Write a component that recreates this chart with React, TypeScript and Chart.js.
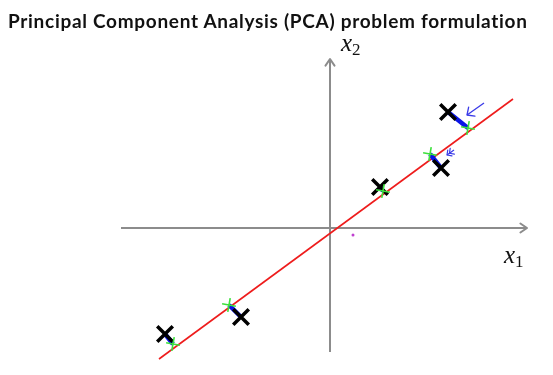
import React, { useEffect, useRef } from "react";
import { Chart, registerables } from "chart.js";

Chart.register(...registerables);

// Data coordinates (origin at the axes crossing)
const axisX = [{ x: -5.225, y: 0 }, { x: 4.925, y: 0 }];
const axisY = [{ x: 0, y: -3.1 }, { x: 0, y: 4.225 }];
const pcaLine = [{ x: -4.275, y: -3.275 }, { x: 4.575, y: 3.225 }];

const pointsX = [2.95, 2.775, 1.25, -4.125, -2.225];
const pointsY = [2.9, 1.5, 1.025, -2.65, -2.225];

const projX = [3.45, 2.5, 1.325, -3.925, -2.525];
const projY = [2.5, 1.85, 0.925, -2.9, -1.925];

const arrow1 = [{ x: 3.85, y: 3.125 }, { x: 3.425, y: 2.825 }];
const arrow2 = [{ x: 3.1, y: 1.95 }, { x: 2.925, y: 1.825 }];
const stray = [{ x: 0.575, y: -0.175 }];

const titleText = "Principal Component Analysis (PCA) problem formulation";

const arrowPlugin = {
  id: "arrowHeads",
  afterDatasetsDraw(chart: any) {
    const ctx = chart.ctx;
    chart.data.datasets.forEach((ds: any, i: number) => {
      if (!ds.arrowHead) return;
      const meta = chart.getDatasetMeta(i);
      const pts = meta.data;
      if (pts.length < 2) return;
      const a = pts[pts.length - 2];
      const b = pts[pts.length - 1];
      const ang = Math.atan2(b.y - a.y, b.x - a.x);
      const size = ds.arrowHead.size;
      const spread = ds.arrowHead.spread;
      const count = ds.arrowHead.count || 1;
      ctx.save();
      ctx.strokeStyle = ds.borderColor;
      ctx.lineWidth = ds.borderWidth;
      ctx.lineCap = "round";
      ctx.lineJoin = "round";
      for (let k = 0; k < count; k++) {
        const ox = b.x - Math.cos(ang) * k * size * 0.6;
        const oy = b.y - Math.sin(ang) * k * size * 0.6;
        ctx.beginPath();
        ctx.moveTo(ox - size * Math.cos(ang - spread), oy - size * Math.sin(ang - spread));
        ctx.lineTo(ox, oy);
        ctx.lineTo(ox - size * Math.cos(ang + spread), oy - size * Math.sin(ang + spread));
        ctx.stroke();
      }
      ctx.restore();
    });
  },
};

export default function App() {
  const ref = useRef<HTMLCanvasElement | null>(null);

  useEffect(() => {
    document.body.style.margin = "0";
    const canvas = ref.current;
    if (!canvas) return;

    const xMarks = pointsX.map((x, i) => ({ x, y: pointsY[i] }));
    const projMarks = projX.map((x, i) => ({ x, y: projY[i] }));
    const segments = pointsX.map((x, i) => ({
      type: "line",
      data: [{ x, y: pointsY[i] }, { x: projX[i], y: projY[i] }],
      borderColor: "#0a14e6",
      borderWidth: 4.5,
      pointRadius: 0,
      showLine: true,
      order: 2,
    }));

    const chart = new Chart(canvas, {
      type: "scatter",
      data: {
        datasets: [
          {
            data: projMarks,
            pointStyle: "cross",
            rotation: 10,
            pointRadius: 7,
            borderColor: "#3ce03c",
            backgroundColor: "#3ce03c",
            pointBorderWidth: 1.6,
            order: 0,
          } as any,
          {
            data: xMarks,
            pointStyle: "crossRot",
            pointRadius: 11,
            borderColor: "#000000",
            backgroundColor: "#000000",
            pointBorderWidth: 3.5,
            order: 1,
          },
          ...segments,
          {
            type: "line",
            data: pcaLine,
            borderColor: "#ee1c1c",
            borderWidth: 1.6,
            pointRadius: 0,
            showLine: true,
            order: 3,
          },
          {
            type: "line",
            data: axisX,
            borderColor: "#8c8c8c",
            borderWidth: 2,
            pointRadius: 0,
            showLine: true,
            order: 4,
            arrowHead: { size: 8, spread: 0.6 },
          } as any,
          {
            type: "line",
            data: axisY,
            borderColor: "#8c8c8c",
            borderWidth: 2,
            pointRadius: 0,
            showLine: true,
            order: 4,
            arrowHead: { size: 8, spread: 0.6 },
          } as any,
          {
            type: "line",
            data: arrow1,
            borderColor: "#3a3ae8",
            borderWidth: 1.3,
            pointRadius: 0,
            showLine: true,
            order: 0,
            arrowHead: { size: 8, spread: 0.75 },
          } as any,
          {
            type: "line",
            data: arrow2,
            borderColor: "#3a3ae8",
            borderWidth: 1.2,
            pointRadius: 0,
            showLine: true,
            order: 0,
            arrowHead: { size: 5, spread: 0.8, count: 2 },
          } as any,
          {
            data: stray,
            pointStyle: "circle",
            pointRadius: 1.5,
            borderWidth: 0,
            backgroundColor: "#c040d0",
            order: 0,
          },
        ] as any,
      },
      options: {
        animation: false,
        responsive: false,
        maintainAspectRatio: false,
        layout: { padding: 0, autoPadding: false } as any,
        plugins: {
          legend: { display: false },
          tooltip: { enabled: false },
          title: { display: false },
        },
        scales: {
          x: { type: "linear", display: false, min: -8.25, max: 5.575 },
          y: { type: "linear", display: false, min: -3.675, max: 5.7 },
        },
      },
      plugins: [arrowPlugin],
    });

    return () => chart.destroy();
  }, []);

  const mathStyle: React.CSSProperties = {
    position: "absolute",
    fontFamily: "'Liberation Serif', 'DejaVu Serif', serif",
    fontSize: 25,
    lineHeight: "25px",
    color: "#111",
    whiteSpace: "nowrap",
  };

  return (
    <div style={{ position: "relative", width: 553, height: 375, background: "#fff", overflow: "hidden" }}>
      <canvas ref={ref} width={553} height={375} style={{ position: "absolute", left: 0, top: 0 }} />
      <div
        style={{
          position: "absolute",
          left: 8,
          top: 10,
          fontFamily: "Lato, 'Open Sans', sans-serif",
          fontWeight: 700,
          fontSize: 19,
          letterSpacing: "0.7px",
          lineHeight: "22px",
          color: "#111",
          whiteSpace: "nowrap",
        }}
      >
        {titleText}
      </div>
      <div style={{ ...mathStyle, left: 341, top: 30 }}>
        <i>x</i>
        <span style={{ fontSize: 17, verticalAlign: "-4px" }}>2</span>
      </div>
      <div style={{ ...mathStyle, left: 504, top: 242 }}>
        <i>x</i>
        <span style={{ fontSize: 17, verticalAlign: "-4px" }}>1</span>
      </div>
    </div>
  );
}
